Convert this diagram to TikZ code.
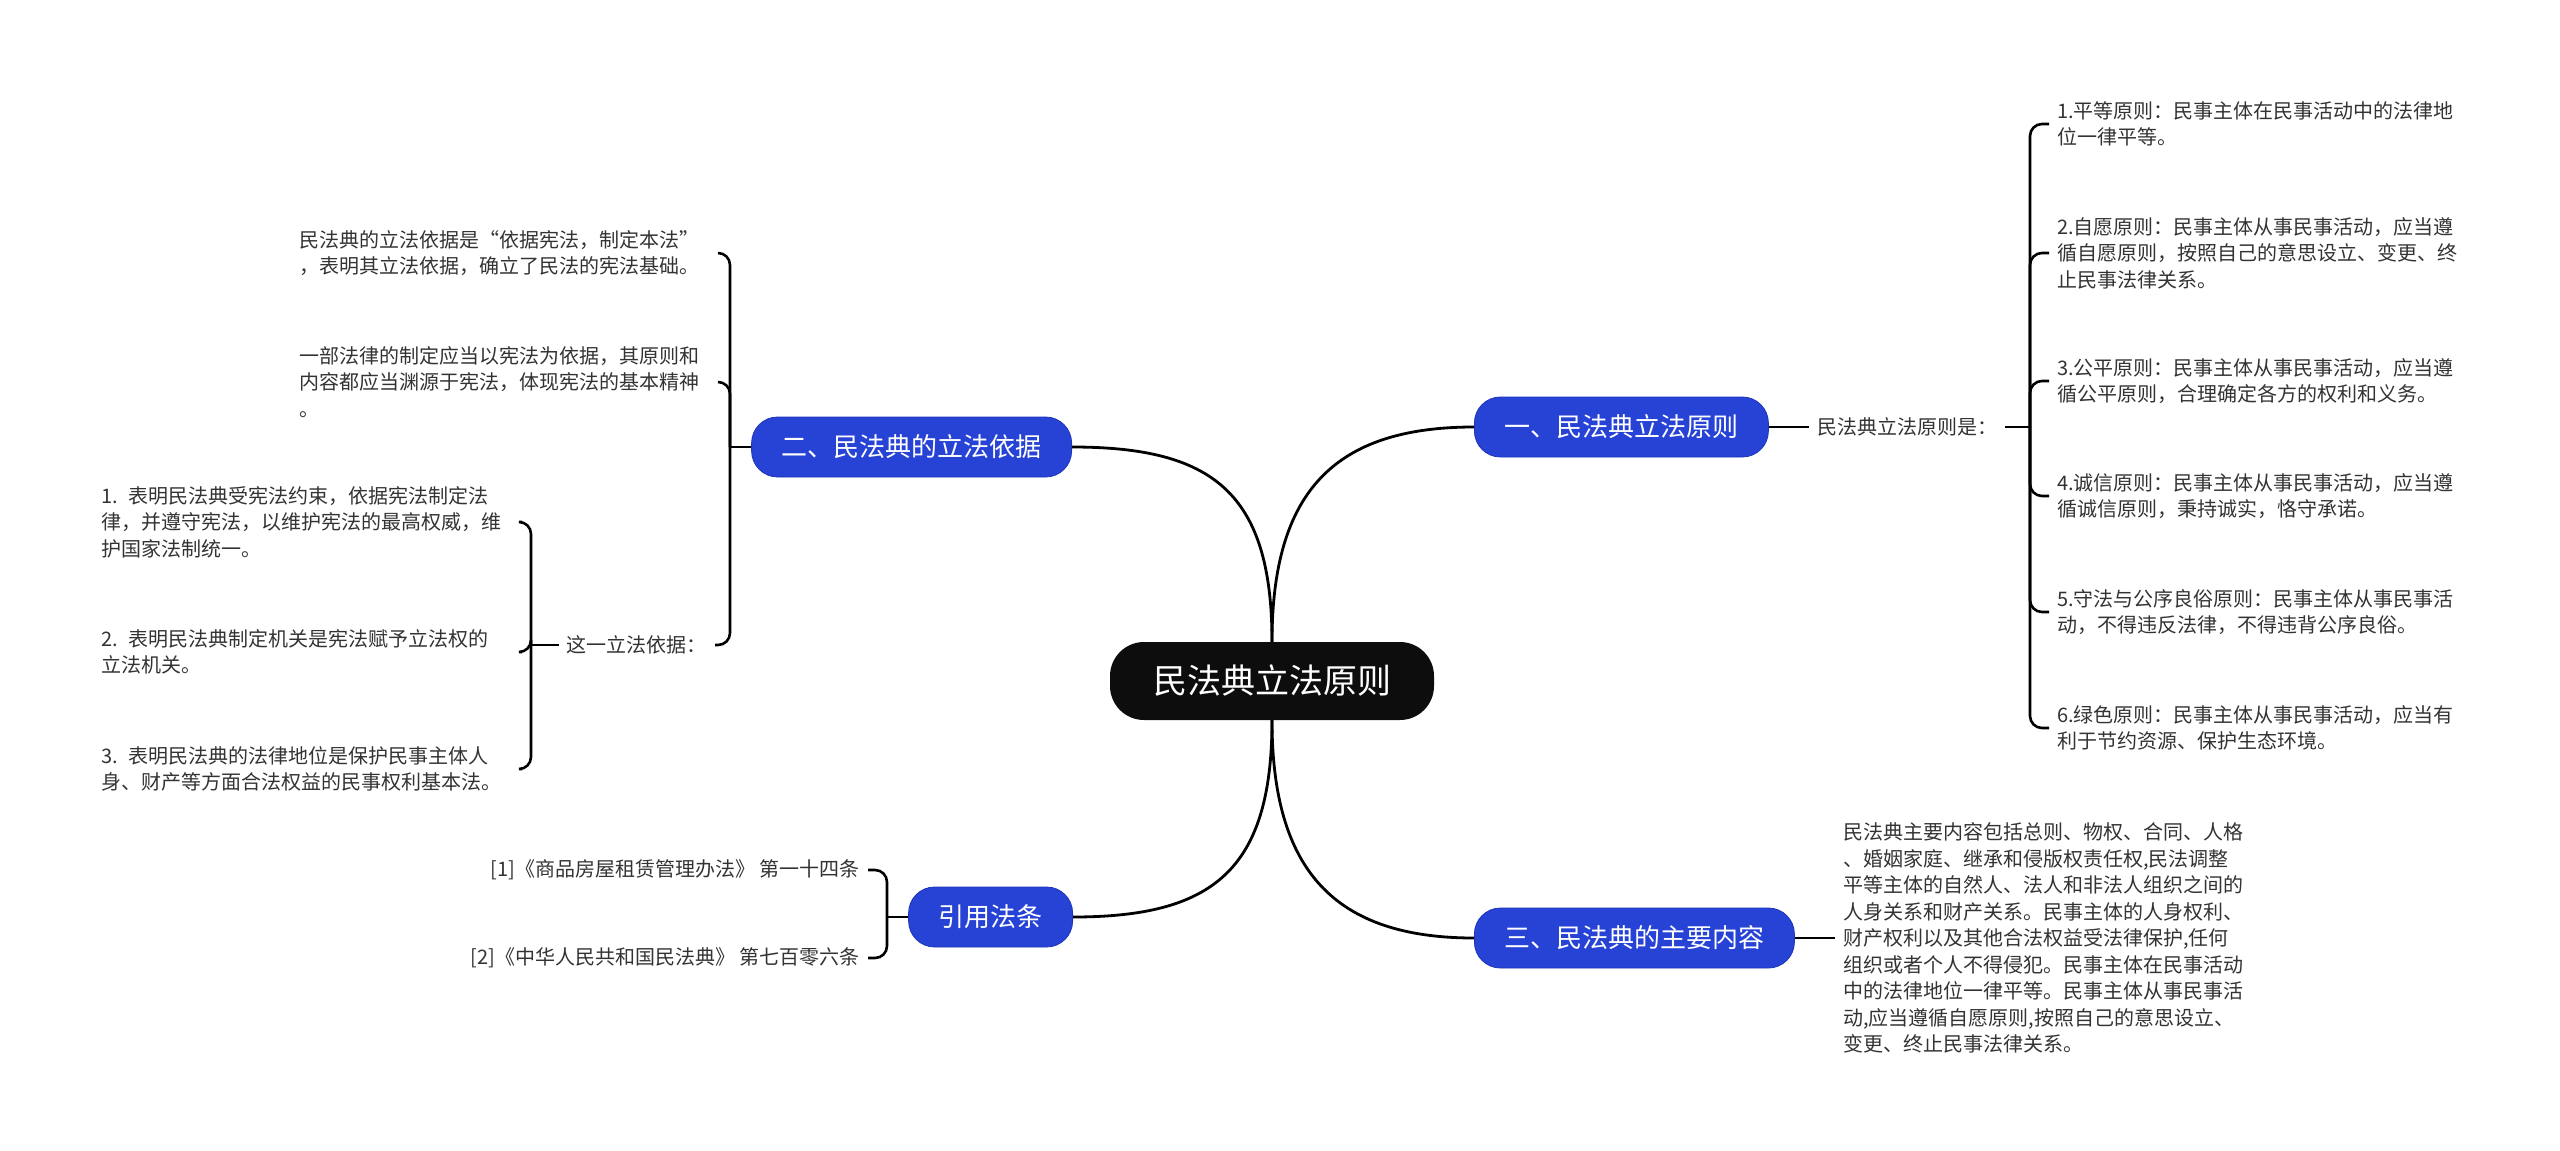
\documentclass[tikz,border=0pt]{standalone}
\usepackage{fontspec}
\setmainfont{Noto Sans CJK SC}
\usetikzlibrary{positioning}
\definecolor{branchblue}{HTML}{2743D6}
\definecolor{branchedge}{HTML}{1D34B8}
\definecolor{rootblack}{HTML}{0D0D0D}
\definecolor{leafgray}{HTML}{333333}

\begin{document}
\begin{tikzpicture}[x=1pt, y=-1pt, align=left]
\tikzset{%
  % Specifications for style of nodes:
  root/.style = {rectangle, rounded corners=34pt, fill=rootblack, text=white, align=center,
                 minimum width=324pt, minimum height=78pt, font=\fontsize{34}{40}\selectfont},
  branch/.style = {rectangle, rounded corners=26pt, draw=branchedge, line width=0.8pt,
                   fill=branchblue, text=white, align=center,
                   minimum height=60pt, inner xsep=30pt, font=\fontsize{26}{30}\selectfont},
  leaf/.style = {text=leafgray, inner xsep=8pt, inner ysep=2pt, font=\fontsize{20}{26.5}\selectfont},
  link/.style = {draw=black, line width=2.8pt},
  fork/.style = {draw=black, line width=2.6pt, rounded corners=12pt},
}
\useasboundingbox (0,0) rectangle (2560,1151);

% Specification of nodes (position, etc.)
\node (root) [root] at (1272,681) {民法典立法原则};

\node (b1) [branch, anchor=west] at (1474,427) {一、民法典立法原则};
\node (b2) [branch, anchor=east] at (1072,447) {二、民法典的立法依据};
\node (b3) [branch, anchor=west] at (1474,938) {三、民法典的主要内容};
\node (b4) [branch, anchor=east] at (1073,917) {引用法条};

% first branch
\node (lbl1) [leaf, anchor=west] at (1809,427) {民法典立法原则是：};
\node (r1) [leaf, anchor=west] at (2049,124) {1.平等原则：民事主体在民事活动中的法律地\\位一律平等。};
\node (r2) [leaf, anchor=west] at (2049,253) {2.自愿原则：民事主体从事民事活动，应当遵\\循自愿原则，按照自己的意思设立、变更、终\\止民事法律关系。};
\node (r3) [leaf, anchor=west] at (2049,381) {3.公平原则：民事主体从事民事活动，应当遵\\循公平原则，合理确定各方的权利和义务。};
\node (r4) [leaf, anchor=west] at (2049,496) {4.诚信原则：民事主体从事民事活动，应当遵\\循诚信原则，秉持诚实，恪守承诺。};
\node (r5) [leaf, anchor=west] at (2049,612) {5.守法与公序良俗原则：民事主体从事民事活\\动，不得违反法律，不得违背公序良俗。};
\node (r6) [leaf, anchor=west] at (2049,728) {6.绿色原则：民事主体从事民事活动，应当有\\利于节约资源、保护生态环境。};

% second branch
\node (l1) [leaf, anchor=east, text width=410pt] at (718,253) {民法典的立法依据是“依据宪法，制定本法”\\，表明其立法依据，确立了民法的宪法基础。};
\node (l2) [leaf, anchor=east, text width=410pt] at (718,382) {一部法律的制定应当以宪法为依据，其原则和\\内容都应当渊源于宪法，体现宪法的基本精神\\。};
\node (l3) [leaf, anchor=east] at (715,645) {这一立法依据：};
\node (m1) [leaf, anchor=east, text width=412pt] at (522,522) {1. 表明民法典受宪法约束，依据宪法制定法\\律，并遵守宪法，以维护宪法的最高权威，维\\护国家法制统一。};
\node (m2) [leaf, anchor=east, text width=412pt] at (522,652) {2. 表明民法典制定机关是宪法赋予立法权的\\立法机关。};
\node (m3) [leaf, anchor=east, text width=412pt] at (522,769) {3. 表明民法典的法律地位是保护民事主体人\\身、财产等方面合法权益的民事权利基本法。};

% third branch
\node (t1) [leaf, anchor=west] at (1835,938) {民法典主要内容包括总则、物权、合同、人格\\、婚姻家庭、继承和侵版权责任权,民法调整\\平等主体的自然人、法人和非法人组织之间的\\人身关系和财产关系。民事主体的人身权利、\\财产权利以及其他合法权益受法律保护,任何\\组织或者个人不得侵犯。民事主体在民事活动\\中的法律地位一律平等。民事主体从事民事活\\动,应当遵循自愿原则,按照自己的意思设立、\\变更、终止民事法律关系。};

% cited articles
\node (c1) [leaf, anchor=east] at (868,870) {[1]《商品房屋租赁管理办法》 第一十四条};
\node (c2) [leaf, anchor=east] at (868,958) {[2]《中华人民共和国民法典》 第七百零六条};

\coordinate (j1) at (2030,427);
\coordinate (j2) at (730,447);
\coordinate (j3) at (531,645);
\coordinate (j4) at (887,917);

% Specification of lines between nodes specified above
\draw[link] (root.north) .. controls +(0,-150) and +(-140,0) .. (b1.west);
\draw[link] (root.north) .. controls +(0,-150) and +(140,0) .. (b2.east);
\draw[link] (root.south) .. controls +(0,150) and +(140,0) .. (b4.east);
\draw[link] (root.south) .. controls +(0,150) and +(-140,0) .. (b3.west);

\draw[link] (b1.east) -- (lbl1.west);
\draw[link] (lbl1.east) -- (j1);
\foreach \i in {1,...,6} \draw[fork] (j1) |- (r\i.west);

\draw[link] (b2.west) -- (j2);
\foreach \n in {l1,l2,l3} \draw[fork] (j2) |- (\n.east);
\draw[link] (l3.west) -- (j3);
\foreach \n in {m1,m2,m3} \draw[fork] (j3) |- (\n.east);

\draw[link] (b3.east) -- (t1.west);

\draw[link] (b4.west) -- (j4);
\foreach \n in {c1,c2} \draw[fork] (j4) |- (\n.east);

\end{tikzpicture}
\end{document}
